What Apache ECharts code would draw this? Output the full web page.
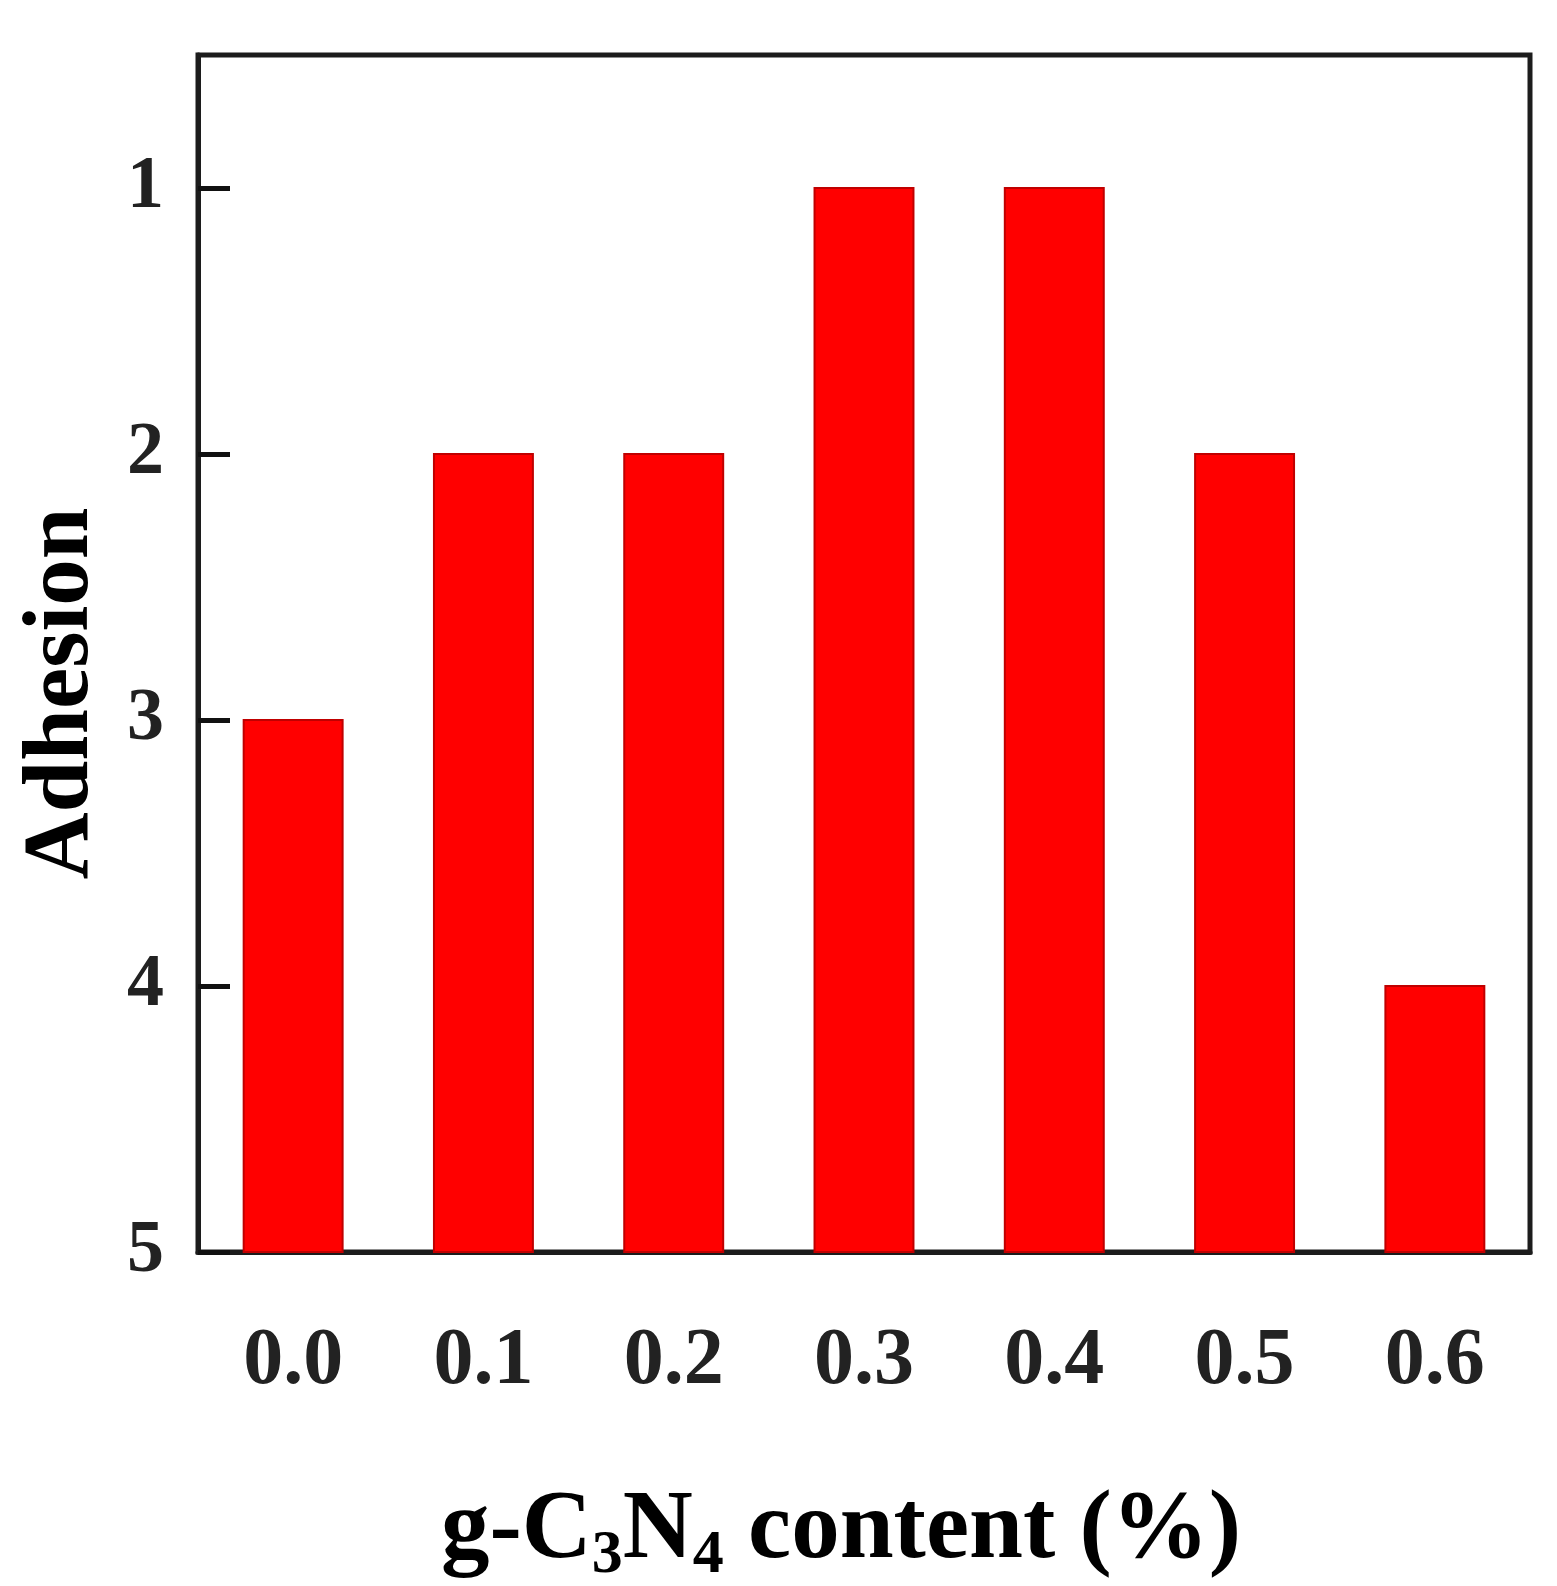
<!DOCTYPE html>
<html>
<head>
<meta charset="utf-8">
<script src="https://cdn.jsdelivr.net/npm/echarts@6/dist/echarts.min.js"></script>
<style>
  html, body { margin: 0; padding: 0; background: #fff; }
  #chart { width: 1557px; height: 1586px; }
</style>
</head>
<body>
<div id="chart"></div>
<script>
// g-C3N4 content (%) on x, adhesion grade on y (1 is best, drawn at top)
const categories = ['0.0', '0.1', '0.2', '0.3', '0.4', '0.5', '0.6'];
const adhesion = [3, 2, 2, 1, 1, 2, 4];
const yTicks = [1, 2, 3, 4, 5];
const yMin = 0.5;
const yMax = 5;

const font = 'Liberation Serif';
const ink = '#1c1c1c';

const myChart = echarts.init(document.getElementById('chart'));

const option = {
    backgroundColor: '#fff',
    animation: false,
    title: {
        text: 'g-C{sub|3}N{sub|4} content (%)',
        left: 836,
        top: 1472,
        textAlign: 'center',
        textStyle: {
            fontFamily: font,
            fontWeight: 'bold',
            fontSize: 97,
            color: '#000',
            lineHeight: 110,
            rich: {
                sub: {
                    fontFamily: font,
                    fontWeight: 'bold',
                    fontSize: 62,
                    color: '#000',
                    lineHeight: 44,
                    verticalAlign: 'bottom'
                }
            }
        }
    },
    grid: {
        left: 198,
        right: 27,
        top: 55,
        bottom: 334,
        show: true,
        borderColor: ink,
        borderWidth: 5,
        containLabel: false,
        outerBoundsMode: 'none'
    },
    xAxis: {
        type: 'category',
        data: categories,
        boundaryGap: true,
        axisLine: { show: true, lineStyle: { color: ink, width: 5 } },
        axisTick: { show: false },
        splitLine: { show: false },
        axisLabel: {
            margin: 70,
            fontFamily: font,
            fontWeight: 'bold',
            fontSize: 80,
            color: '#222'
        }
    },
    yAxis: {
        type: 'value',
        inverse: true,
        min: yMin,
        max: yMax,
        name: 'Adhesion',
        nameLocation: 'middle',
        nameRotate: 90,
        nameGap: 89,
        nameTextStyle: {
            fontFamily: font,
            fontWeight: 'bold',
            fontSize: 93,
            color: '#000',
            padding: [0, 80, 0, 0]
        },
        axisLine: { show: true, lineStyle: { color: ink, width: 5 } },
        axisTick: {
            show: true,
            inside: true,
            length: 32,
            customValues: yTicks,
            lineStyle: { color: '#111', width: 5 }
        },
        splitLine: { show: false },
        axisLabel: {
            customValues: yTicks,
            margin: 34,
            fontFamily: font,
            fontWeight: 'bold',
            fontSize: 74,
            color: '#222'
        }
    },
    series: [{
        type: 'custom',
        data: adhesion.map((v, i) => [i, v]),
        encode: { x: 0, y: 1 },
        // bars rise from the bottom grade (5) up to each value
        renderItem(params, api) {
            const top = api.coord([api.value(0), api.value(1)]);
            const base = api.coord([api.value(0), yMax]);
            const w = api.size([1, 0])[0] * 0.52;
            return {
                type: 'rect',
                shape: { x: top[0] - w / 2, y: top[1], width: w, height: base[1] - top[1] },
                style: { fill: '#ff0000', stroke: '#c00000', lineWidth: 2 }
            };
        }
    }]
};

myChart.setOption(option);
</script>
</body>
</html>
